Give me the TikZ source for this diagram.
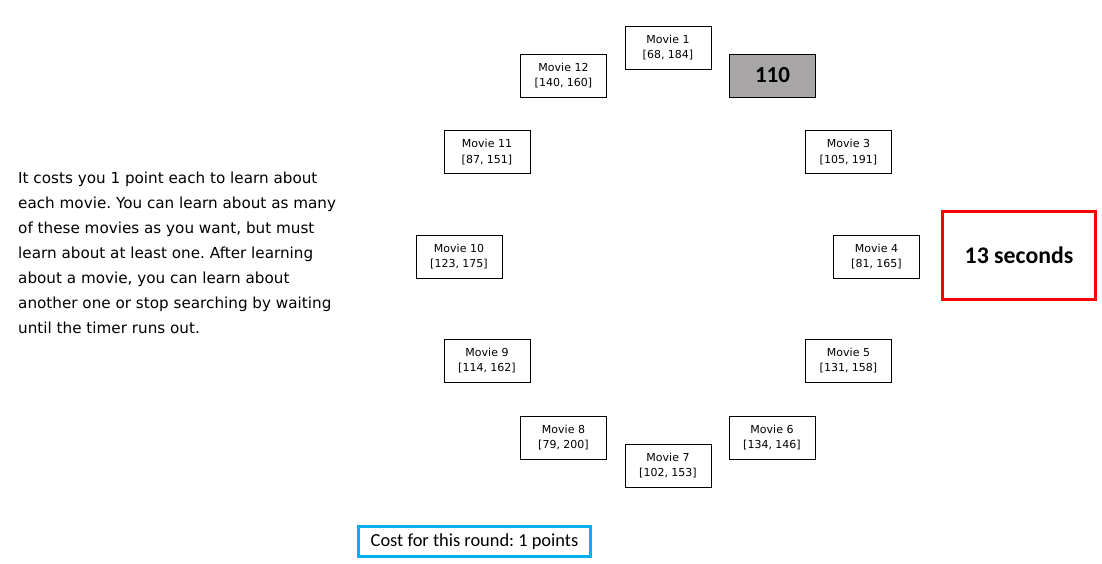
\documentclass[tikz,border=0pt]{standalone}
\usepackage{fontspec}
\setmainfont{DejaVu Sans}
\newfontfamily\boxfont{DejaVu Sans}
\newfontfamily\calfont{Carlito}
\begin{document}
\frenchspacing
\begin{tikzpicture}[x=1pt,y=-1pt,
  movie/.style={draw=black, line width=0.9pt, minimum width=86pt, minimum height=43pt, inner sep=0pt, align=center, font=\boxfont\fontsize{11}{15.5}\selectfont},
]
\useasboundingbox (0,0) rectangle (1102,564);
\node[movie] (m1) at (668,47.5) {Movie 1\\{}[68, 184]};
\node[movie, fill={rgb,255:red,168;green,166;blue,166}, font=\calfont\bfseries\fontsize{23}{26}\selectfont] (top) at (772.5,75.5) {110};
\node[movie] (m12) at (563.5,75.5) {Movie 12\\{}[140, 160]};
\node[movie] (m11) at (487,152) {Movie 11\\{}[87, 151]};
\node[movie] (m3) at (848.5,152) {Movie 3\\{}[105, 191]};
\node[movie] (m10) at (459,256.5) {Movie 10\\{}[123, 175]};
\node[movie] (m4) at (876.5,256.5) {Movie 4\\{}[81, 165]};
\node[movie] (m9) at (487,360.5) {Movie 9\\{}[114, 162]};
\node[movie] (m5) at (848.5,360.5) {Movie 5\\{}[131, 158]};
\node[movie] (m8) at (563.5,437.5) {Movie 8\\{}[79, 200]};
\node[movie] (m6) at (772,437.5) {Movie 6\\{}[134, 146]};
\node[movie] (m7) at (668,465.5) {Movie 7\\{}[102, 153]};
\node[draw=red, line width=3pt, minimum width=153pt, minimum height=88pt, inner sep=0pt, font=\calfont\bfseries\fontsize{23.8}{28}\selectfont] (timer) at (1019,255) {13 seconds};
\node[draw={rgb,255:red,0;green,176;blue,240}, line width=3pt, minimum width=232pt, minimum height=30pt, inner sep=0pt, font=\calfont\fontsize{18.4}{22}\selectfont] (cost) at (474.5,541.5) {Cost for this round: 1 points};
\node[anchor=north west, inner sep=0pt, align=left, font=\fontsize{15.2}{25}\selectfont] (info) at (18,172) {It costs you 1 point each to learn about\\each movie. You can learn about as many\\of these movies as you want, but must\\learn about at least one. After learning\\about a movie, you can learn about\\another one or stop searching by waiting\\until the timer runs out.};
\end{tikzpicture}
\end{document}
